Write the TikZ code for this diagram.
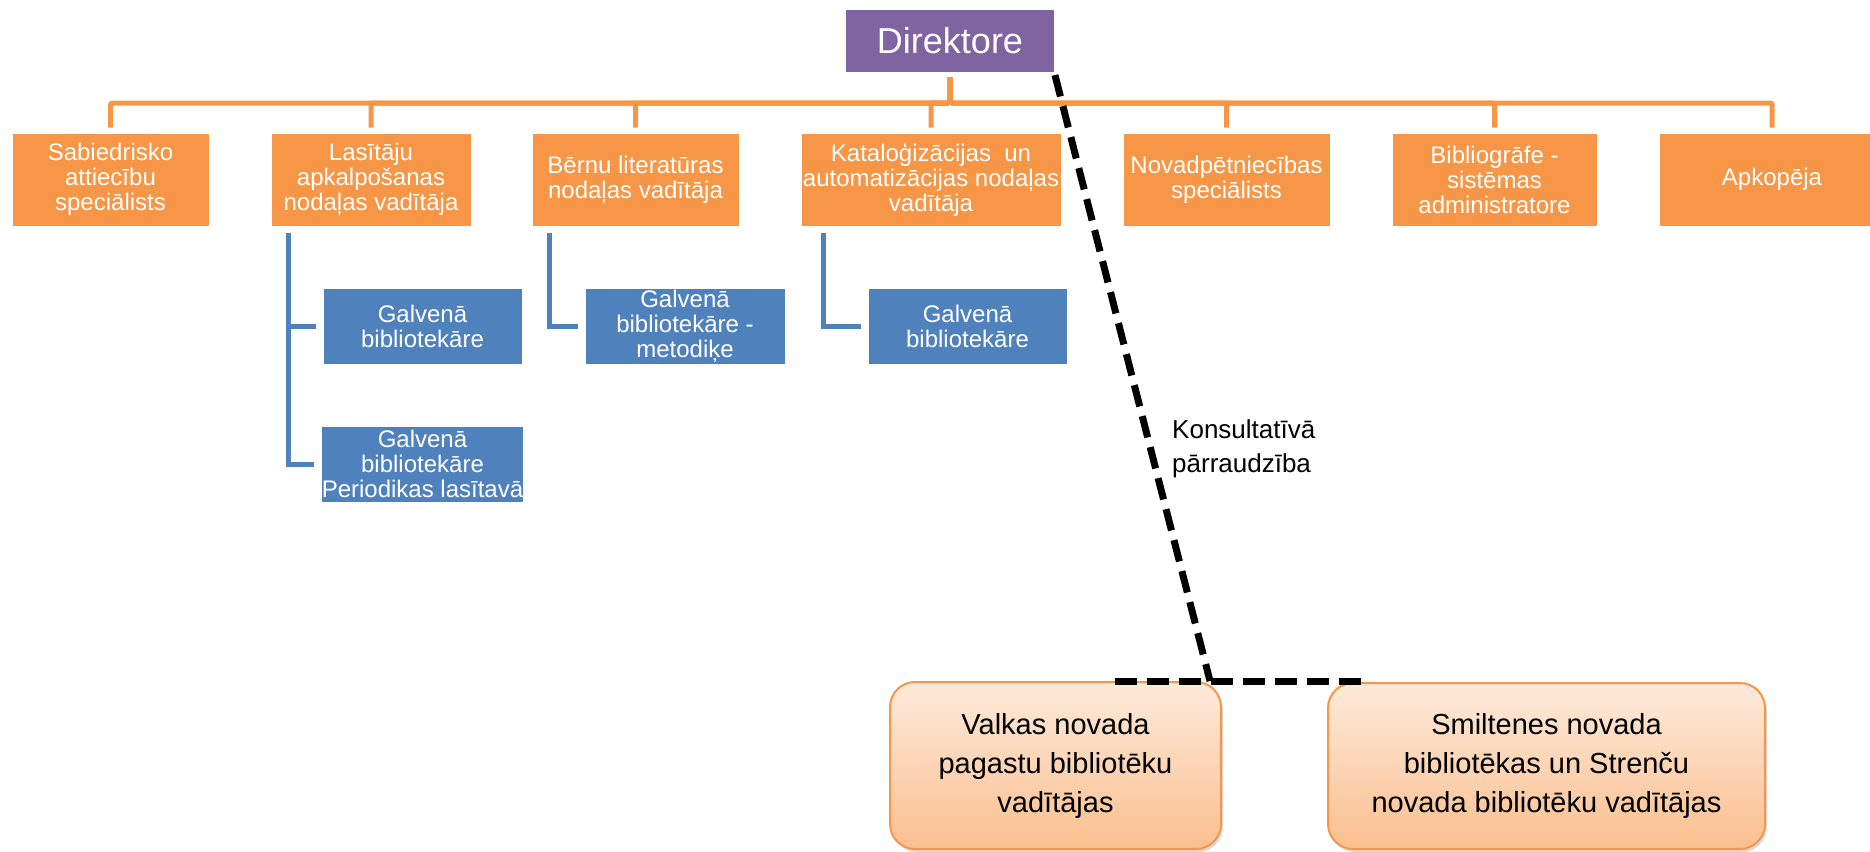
\documentclass[tikz,border=0pt]{standalone}
\usepackage{fontspec}
\setmainfont{Liberation Sans}
\usetikzlibrary{shadows}
\definecolor{orng}{HTML}{F79646}
\definecolor{blu}{HTML}{4F81BD}
\definecolor{purp}{HTML}{8064A2}
\definecolor{peachtop}{HTML}{FDEADB}
\definecolor{peachbot}{HTML}{FBBF8E}
\tikzset{
  obox/.style={rectangle, fill=orng, draw=white, line width=1pt, text=white, align=center,
    inner sep=0pt, minimum height=93pt, font=\fontsize{24}{25}\selectfont},
  bbox/.style={rectangle, fill=blu, draw=white, line width=1pt, text=white, align=center,
    inner sep=0pt, minimum height=76pt, minimum width=199pt, font=\fontsize{24}{25}\selectfont},
  dbox/.style={rectangle, fill=purp, text=white, inner sep=0pt, minimum width=208pt,
    minimum height=62pt, font=\fontsize{36}{40}\selectfont},
  rbox/.style={rectangle, rounded corners=25pt, draw=orng, line width=2pt, top color=peachtop,
    bottom color=peachbot, text=black, align=center, inner sep=0pt,
    font=\fontsize{29}{39}\selectfont,
    drop shadow={opacity=0.3, shadow xshift=2pt, shadow yshift=-3pt}},
  oline/.style={draw=orng, line width=5pt, rounded corners=2pt, shorten <=5pt, shorten >=5pt},
  bline/.style={draw=blu, line width=5pt, shorten <=6pt, shorten >=7pt},
  dline/.style={draw=black, line width=7pt, dash pattern=on 22pt off 10pt},
  lbl/.style={text=black, align=left, inner sep=0pt, font=\fontsize{26}{34}\selectfont}
}
\begin{document}
\begin{tikzpicture}[x=1pt, y=-1pt]
\useasboundingbox (0,0) rectangle (1870,851);
\clip (0,0) rectangle (1870,851);

% director
\node[dbox] (dir) at (950,41) {Direktore};

% orange boxes
\node[obox, minimum width=197pt] (o1) at (110.5,179.5) {Sabiedrisko\\attiecību\\speciālists};
\node[obox, minimum width=200pt] (o2) at (371,179.5) {Lasītāju\\apkalpošanas\\nodaļas vadītāja};
\node[obox, minimum width=207pt] (o3) at (635.5,179.5) {Bērnu literatūras\\nodaļas vadītāja};
\node[obox, minimum width=260pt] (o4) at (931,179.5) {Kataloģizācijas~ un\\automatizācijas nodaļas\\vadītāja};
\node[obox, minimum width=207pt] (o5) at (1226.5,179.5) {Novadpētniecības\\speciālists};
\node[obox, minimum width=205pt] (o6) at (1494.5,179.5) {Bibliogrāfe -\\sistēmas\\administratore};
\node[obox, minimum width=226pt] (o7) at (1772,179.5) {Apkopēja};

% blue boxes
\node[bbox] (b1) at (422.5,326) {Galvenā\\bibliotekāre};
\node[bbox] (b2) at (422.5,464) {Galvenā\\bibliotekāre\\Periodikas lasītavā};
\node[bbox, minimum width=200pt] (b3) at (685,326) {Galvenā\\bibliotekāre -\\metodiķe};
\node[bbox] (b4) at (967.5,326) {Galvenā\\bibliotekāre};

% orange connectors
\coordinate (bus) at (0,103);
\foreach \n in {o1,o2,o3,o4,o5,o6,o7}
  \draw[oline] (dir.south) -- (dir.south |- bus) -| (\n.north);

% blue connectors
\draw[bline] ([xshift=18pt]o2.south west) |- (b1.west);
\draw[bline] ([xshift=18pt]o2.south west) |- (b2.west);
\draw[bline] ([xshift=18pt]o3.south west) |- (b3.west);
\draw[bline] ([xshift=23pt]o4.south west) |- (b4.west);

% bottom boxes
\node[rbox, minimum width=331pt, minimum height=167pt] (v) at (1055.5,765.5)
  {Valkas novada\\pagastu bibliotēku\\vadītājas};
\node[rbox, minimum width=437pt, minimum height=166pt] (s) at (1546.5,766)
  {Smiltenes novada\\bibliotēkas un Strenču\\novada bibliotēku vadītājas};

% consultative supervision
\coordinate (bend) at (1210,681);
\coordinate (hl) at (1115,681);
\coordinate (hr) at (1361,681);
\draw[dline, shorten <=3pt] (dir.south east) -- (bend);
\draw[dline] (hl) -- (hr);
\node[lbl, anchor=north west] (kons) at (1172,419) {Konsultatīvā\\pārraudzība};
\end{tikzpicture}
\end{document}
